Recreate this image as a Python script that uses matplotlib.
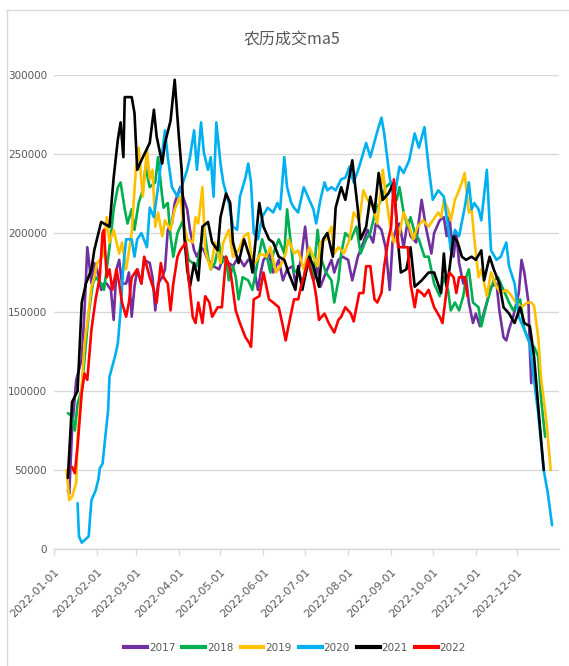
import matplotlib
matplotlib.use('Agg')
import matplotlib.pyplot as plt
import matplotlib.dates as mdates
from matplotlib.lines import Line2D
from matplotlib import font_manager
import pandas as pd
import numpy as np

# ---------------- data (day offset from 2022-01-01, values in thousands) ----------------
title = '农历成交ma5'
series_names = ['2017', '2018', '2019', '2020', '2021', '2022']
series_colors = ['#7030A0', '#00B050', '#FFC000', '#00B0F0', '#000000', '#FF0000']

days_2017 = [10,11,13,16,20,22,24,27,29,31, 34,36,38,41,43,45,47,49,52,54, 56,58,60,63,65,69,71,73,75,78,
             80,82,85,87,91,93,96,98,101,103, 106,108,111,115,119,122,126,129,133,137, 140,143,147,149,151,155,158,162,165,168,
             172,174,178,181,184,187,190,192,196,200, 202,205,208,212,215,219,223,226,230,232, 236,239,242,244,247,249,252,255,257,261,
             265,268,272,274,278,281,283,285,288,290, 292,295,297,299,302,304,307,309,312,315, 319,321,324,326,328,331,335,337,339,342,
             343,344]
vals_2017 = [37,35,75,107,120,151,191,168,181,177, 164,168,168,164,145,177,183,168,168,175, 147,166,177,168,183,181,172,151,168,172,
             177,202,206,219,229,223,215,202,189,185, 191,189,183,179,177,185,181,179,185,179, 183,183,164,175,183,187,175,183,170,177,
             179,168,183,204,179,170,179,166,175,183, 175,183,185,183,170,185,194,202,194,206, 202,191,164,194,204,206,191,208,198,194,
             221,204,187,200,208,210,198,210,185,200, 181,168,172,156,143,149,141,147,156,166, 168,151,134,132,139,147,162,183,175,156,
             126,105]

days_2018 = [10,13,15,17,20,23,25,28,30,34, 36,38,41,43,46,48,51,53,56,58, 61,64,66,69,73,75,78,79,82,84,
             86,89,93,95,97,100,103,106,108,111, 113,116,119,121,124,126,129,131,133,136, 140,143,147,150,153,156,158,162,166,168,
             171,173,176,179,182,184,187,190,192,196, 200,202,205,207,210,214,218,221,225,228, 232,236,239,243,247,249,252,255,257,260,
             263,267,270,274,278,281,284,286,289,292, 295,297,299,302,306,308,312,314,317,320, 324,328,331,336,339,343,346,349,351,354]
vals_2018 = [86,84,75,92,101,130,149,168,172,168, 164,177,198,215,229,232,215,206,215,202, 219,227,242,229,232,248,223,216,219,198,
             185,200,208,194,183,181,179,194,204,185, 177,181,194,181,185,170,179,172,158,172, 170,164,183,196,187,175,187,196,187,215,
             191,175,177,166,181,189,172,202,185,175, 170,156,170,187,200,196,204,187,196,200, 215,221,229,232,221,229,213,204,210,200,
             196,185,185,168,160,172,164,151,156,151, 160,172,177,156,153,141,156,162,170,172, 164,156,151,158,139,130,128,122,96,71]

days_2019 = [9,11,13,16,17,20,22,24,27,29, 31,35,38,40,43,47,49,52,56,59, 61,64,67,69,71,73,75,78,80,84,
             87,91,93,96,100,102,104,107,109,113, 116,120,122,126,129,133,137,140,142,145, 149,153,156,160,163,167,169,173,176,180,
             184,187,190,192,196,200,202,205,209,213, 216,220,223,226,230,233,237,239,242,245, 249,252,256,259,262,266,270,273,277,279,
             281,284,286,289,291,294,296,299,301,303, 306,308,312,315,319,322,326,330,333,337, 341,344,346,349,351,355,358]
vals_2019 = [50,31,33,42,71,103,130,143,166,172, 181,185,210,194,202,187,194,177,200,240, 254,223,253,234,240,204,213,198,208,202,
             215,223,208,196,194,210,206,229,189,177, 194,181,194,202,185,189,198,200,187,181, 187,185,191,175,179,187,196,187,189,177,
             191,185,179,194,196,204,187,191,187,196, 213,208,227,221,216,206,240,225,206,194, 200,213,204,196,204,208,204,208,213,210,
             221,215,208,221,225,232,238,213,215,196, 172,177,160,175,166,162,164,160,156,153, 156,156,154,134,109,80,50]

days_2020 = [17,18,20,25,26,27,30,32,33,35, 37,39,40,44,46,48,50,52,56,58, 60,63,67,69,72,75,80,82,85,89,
             93,96,98,101,103,106,108,111,113,115, 117,120,122,126,129,132,134,138,140,142, 144,147,150,154,158,161,163,166,168,171,
             173,176,180,183,187,189,192,195,197,200, 203,207,210,213,216,220,225,228,232,236, 238,242,245,249,252,256,260,263,267,270,
             273,277,281,284,286,289,292,296,299,301, 303,306,308,312,315,319,322,326,328,332, 335,339,343,346,349,353,356,359]
vals_2020 = [29,8,4,8,20,31,37,44,51,54, 71,88,109,122,130,151,179,196,196,185, 196,200,191,216,210,229,265,248,229,223,
             232,240,248,265,240,270,251,240,248,223, 270,244,232,219,204,202,223,235,244,232, 200,196,210,216,213,219,215,248,229,219,
             216,213,229,223,215,206,221,232,227,229, 227,234,235,242,232,242,257,248,261,273, 263,235,221,242,238,246,263,254,267,242,
             221,227,223,204,189,202,198,216,232,215, 219,215,208,240,189,183,185,194,179,168, 147,139,130,107,86,50,35,15]

days_2021 = [10,13,17,20,23,27,29,34,40,43, 46,48,50,51,56,58,60,63,69,72, 74,78,80,84,87,90,92,94,96,98,
             101,104,107,111,114,118,120,124,127,129, 133,137,141,143,148,151,155,158,162,166, 169,174,176,179,184,187,191,194,197,201,
             203,207,210,215,219,221,225,228,231,234, 237,241,245,248,250,254,257,260,265,270, 274,279,281,283,285,288,291,294,297,301,
             304,308,310,314,317,321,324,328,332,336, 339,343,346,348,350,353]
vals_2021 = [45,93,100,156,168,177,189,207,204,235, 259,270,248,286,286,276,240,246,257,278, 261,244,257,271,297,261,240,197,177,166,
             181,170,204,207,194,189,210,225,219,194, 181,196,185,175,219,204,196,194,185,183, 175,164,179,164,185,179,166,196,200,185,
             216,229,221,246,215,196,204,223,213,238, 221,225,232,194,175,177,191,166,170,175, 175,162,187,166,177,198,194,185,183,185,
             183,189,170,185,177,168,153,149,143,153, 143,141,122,101,80,50]

days_2022 = [13,15,17,20,22,24,27,30,33,35, 36,38,40,42,45,47,49,52,54,56, 60,63,65,69,72,74,77,79,82,84,
             86,89,91,95,97,100,102,104,107,109, 112,114,118,121,124,127,131,134,138,141, 142,144,148,151,155,158,162,165,167,169,
             173,176,178,180,183,187,189,191,195,198, 202,205,207,210,214,216,220,223,225,228, 231,233,236,238,241,243,245,248,252,255,
             257,260,262,265,267,270,274,278,280,283, 285,288,290,292,296,298]
vals_2022 = [52,48,65,99,111,107,139,158,172,200, 202,172,177,164,177,168,156,147,156,172, 177,168,185,172,164,156,181,172,168,151,
             168,185,189,194,172,147,143,156,143,160, 156,147,153,153,185,177,151,143,134,130, 128,158,160,175,158,156,153,141,132,141,
             158,158,166,172,183,170,160,145,149,143, 137,145,147,153,149,144,162,162,179,179, 158,156,162,179,196,204,234,191,191,191,
             168,153,164,162,160,164,153,147,143,164, 175,172,162,172,172,160]

y_ticks = [0, 50000, 100000, 150000, 200000, 250000, 300000]

all_days = [days_2017, days_2018, days_2019, days_2020, days_2021, days_2022]
all_vals = [vals_2017, vals_2018, vals_2019, vals_2020, vals_2021, vals_2022]
for d, v in zip(all_days, all_vals):
    assert len(d) == len(v), (len(d), len(v))

# ---------------- fonts ----------------
def available(name):
    try:
        font_manager.findfont(name, fallback_to_default=False)
        return True
    except Exception:
        return False

tick_font = 'Liberation Sans Narrow' if available('Liberation Sans Narrow') else 'DejaVu Sans'
plt.rcParams['font.family'] = [tick_font, 'Noto Sans CJK SC', 'DejaVu Sans']

# ---------------- figure ----------------
W, H = 569, 666
fig = plt.figure(figsize=(W / 100, H / 100), dpi=100)
fig.patch.set_facecolor('white')
L, R, T, B = 54, 559, 75, 549
ax = fig.add_axes([L / W, 1 - B / H, (R - L) / W, (B - T) / H])

base = pd.Timestamp('2022-01-01')
for name, color, d, v in zip(series_names, series_colors, all_days, all_vals):
    x = base + pd.to_timedelta(np.array(d), unit='D')
    ax.plot(x, np.array(v) * 1000, color=color, lw=1.9, label=name,
            solid_joinstyle='round', solid_capstyle='round')

ax.set_xlim(pd.Timestamp('2022-01-01'), pd.Timestamp('2022-12-31'))
ax.set_ylim(0, 300000)
ax.set_yticks(y_ticks)
ax.set_yticklabels([str(t) for t in y_ticks])
ax.yaxis.grid(True, color='#d9d9d9', lw=1)
ax.set_axisbelow(True)
for s in ['top', 'right', 'left']:
    ax.spines[s].set_visible(False)
ax.spines['bottom'].set_color('#d9d9d9')
ax.spines['bottom'].set_linewidth(1)
ax.spines['bottom'].set_zorder(0.5)

ax.xaxis.set_major_locator(mdates.MonthLocator())
ax.xaxis.set_major_formatter(mdates.DateFormatter('%Y-%m-%d'))
ax.tick_params(axis='x', length=4, width=1, color='#d9d9d9', labelsize=8, labelcolor='#595959', pad=9)
plt.setp(ax.get_xticklabels(), rotation=45, ha='right', va='top', rotation_mode='anchor')
ax.tick_params(axis='y', length=0, labelsize=7.5, labelcolor='#595959', pad=5)

fig.text(292 / W, 1 - 40 / H, title, ha='center', va='center', fontsize=11.5, color='#595959',
         family=['Noto Sans CJK SC', 'DejaVu Sans'])

handles = [Line2D([0], [0], color=c, lw=3) for c in series_colors]
fig.legend(handles, series_names, loc='center', bbox_to_anchor=(295 / W, 1 - 648 / H), ncol=6,
           frameon=False, fontsize=7.5, handlelength=2.2, handletextpad=0.15, columnspacing=0.7,
           labelcolor='#595959')

# chart area border
fig.add_artist(Line2D([7 / W, 7 / W], [0, 1 - 10 / H], transform=fig.transFigure, color='#d9d9d9', lw=1))
fig.add_artist(Line2D([7 / W, 1], [1 - 10 / H, 1 - 10 / H], transform=fig.transFigure, color='#d9d9d9', lw=1))

fig.savefig('out.png', dpi=100, facecolor='white')
